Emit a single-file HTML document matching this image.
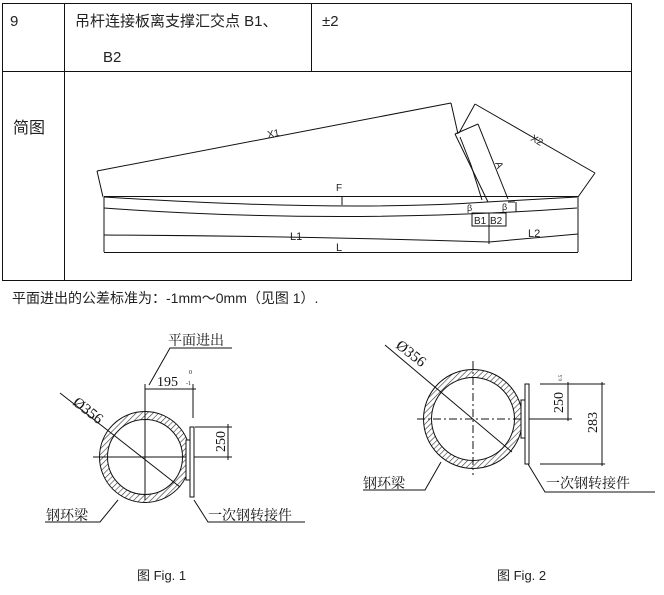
<!DOCTYPE html>
<html><head><meta charset="utf-8"><style>
html,body{margin:0;padding:0;background:#fff;width:664px;height:595px;overflow:hidden}
svg{display:block}
.t{font-family:"Liberation Sans","Noto Sans CJK SC",sans-serif;fill:#222}
.s{font-family:"Liberation Serif","Noto Serif CJK SC",serif;fill:#111}
</style></head><body>
<svg width="664" height="595" viewBox="0 0 664 595" xmlns="http://www.w3.org/2000/svg">
<defs>
<pattern id="h" width="4" height="4" patternUnits="userSpaceOnUse" patternTransform="rotate(45)">
<rect width="4" height="4" fill="#fff"/><line x1="0" y1="0" x2="0" y2="4" stroke="#333" stroke-width="1.2"/></pattern>
</defs>
<!-- table -->
<g stroke="#111" stroke-width="1" fill="none">
<line x1="2" y1="3.5" x2="632" y2="3.5"/>
<line x1="2" y1="71.5" x2="632" y2="71.5"/>
<line x1="2" y1="280.5" x2="632" y2="280.5"/>
<line x1="2.5" y1="3" x2="2.5" y2="281"/>
<line x1="64.5" y1="3" x2="64.5" y2="281"/>
<line x1="311.5" y1="3" x2="311.5" y2="72"/>
<line x1="631.5" y1="3" x2="631.5" y2="281"/>
</g>
<text class="t" x="10" y="26" font-size="15">9</text>
<text class="t" x="75" y="26" font-size="15">吊杆连接板离支撑汇交点 B1、</text>
<text class="t" x="103" y="62" font-size="15">B2</text>
<text class="t" x="322" y="26" font-size="15">±2</text>
<text class="t" x="13" y="133" font-size="16">简图</text>
<!-- beam diagram -->
<g stroke="#111" stroke-width="1" fill="none">
<line x1="97" y1="171" x2="451" y2="103"/>
<line x1="97" y1="171" x2="103" y2="197"/>
<line x1="451" y1="103" x2="458" y2="134"/>
<line x1="459" y1="133" x2="475" y2="104"/>
<line x1="475" y1="104" x2="595" y2="173"/>
<line x1="595" y1="173" x2="578" y2="197"/>
<line x1="455" y1="134" x2="478" y2="124"/>
<line x1="455" y1="134" x2="488" y2="202"/>
<line x1="478" y1="124" x2="508" y2="199"/>
<line x1="460" y1="137" x2="471" y2="165"/>
<line x1="471" y1="165" x2="482" y2="200"/>
<line x1="104" y1="196.5" x2="578" y2="196.5"/>
<path d="M104 197 Q340 212 487 202 Q540 199 577 197"/>
<path d="M104 208 Q340 225 577 208"/>
<line x1="104" y1="197" x2="104" y2="252"/>
<line x1="578" y1="197" x2="578" y2="252"/>
<line x1="342" y1="197" x2="342" y2="205"/>
<line x1="508" y1="202" x2="515" y2="202"/>
<line x1="516" y1="202" x2="516" y2="212"/>
<path d="M104 235 Q300 236 489 242 L578 234"/>
<line x1="104" y1="252.5" x2="578" y2="252.5"/>
<rect x="472" y="213" width="17" height="13"/>
<rect x="489" y="213" width="17" height="13"/>
<line x1="489" y1="213" x2="489" y2="244"/>
</g>
<g class="t" font-size="10">
<text x="268" y="138" transform="rotate(-11 268 138)">X1</text>
<text x="530" y="140" transform="rotate(30 530 140)">X2</text>
<text x="495" y="163" transform="rotate(70 495 163)">A</text>
<text x="336" y="191">F</text>
<text x="467" y="211" font-size="9">β</text>
<text x="502" y="210" font-size="9">β</text>
<text x="474" y="224" font-size="10">B1</text>
<text x="490" y="224" font-size="10">B2</text>
<text x="290" y="240" font-size="11">L1</text>
<text x="528" y="237" font-size="11">L2</text>
<text x="336" y="251" font-size="11">L</text>
</g>
<text class="t" x="12" y="303" font-size="14">平面进出的公差标准为：-1mm～0mm（见图 1）.</text>
<!-- Fig 1 -->
<g stroke="#111" stroke-width="1" fill="none">
<circle cx="145" cy="457" r="41.5" stroke-width="8" stroke="url(#h)"/>
<circle cx="145" cy="457" r="45.5"/>
<circle cx="145" cy="457" r="37.5"/>
<line x1="145" y1="405" x2="145" y2="500"/>
<line x1="93" y1="457" x2="232" y2="457"/>
<rect x="190" y="427" width="4" height="70" fill="#fff"/>
<rect x="186" y="440" width="4" height="40" fill="#fff"/>
<line x1="195" y1="427" x2="232" y2="427"/>
<line x1="228" y1="424" x2="228" y2="460"/>
<line x1="145" y1="389" x2="196" y2="389"/>
<line x1="145" y1="384" x2="145" y2="405"/>
<line x1="193" y1="384" x2="193" y2="418"/>
<path d="M149 385 L170 348 L232 348"/>
<line x1="60" y1="393" x2="180" y2="487"/>
<path d="M118 500 L100 522 L45 522"/>
<path d="M194 500 L208 522 L305 522"/>
</g>
<text class="s" x="168" y="345" font-size="14">平面进出</text>
<text class="s" x="157" y="386" font-size="14">195</text>
<text class="s" x="189" y="374" font-size="6">0</text>
<text class="s" x="186" y="385" font-size="6">-1</text>
<text class="s" x="225" y="452" font-size="14" transform="rotate(-90 225 452)">250</text>
<text class="s" x="72" y="404" font-size="15" transform="rotate(38 72 404)">Ø356</text>
<text class="s" x="46" y="520" font-size="14">钢环梁</text>
<text class="s" x="208" y="520" font-size="14">一次钢转接件</text>
<!-- Fig 2 -->
<g stroke="#111" stroke-width="1" fill="none">
<circle cx="473" cy="419" r="45.5" stroke-width="8" stroke="url(#h)"/>
<circle cx="473" cy="419" r="49.5"/>
<circle cx="473" cy="419" r="41.5"/>
<line x1="473" y1="361" x2="473" y2="475" stroke-dasharray="8 3 2 3"/>
<line x1="417" y1="419" x2="530" y2="419" stroke-dasharray="8 3 2 3"/>
<rect x="525" y="384" width="4" height="80" fill="#fff"/>
<rect x="521" y="400" width="4" height="38" fill="#fff"/>
<line x1="540" y1="384" x2="605" y2="384"/>
<line x1="540" y1="464" x2="605" y2="464"/>
<line x1="530" y1="419" x2="572" y2="419"/>
<line x1="568" y1="382" x2="568" y2="421"/>
<line x1="602" y1="382" x2="602" y2="466"/>
<line x1="385" y1="345" x2="512" y2="452"/>
<path d="M441 462 L425 490 L363 490"/>
<path d="M528 464 L545 492 L655 492"/>
</g>
<text class="s" x="563" y="413" font-size="14" transform="rotate(-90 563 413)">250</text>
<text class="s" x="562" y="381" font-size="5" transform="rotate(-90 562 381)">0.5</text>
<text class="s" x="597" y="433" font-size="14" transform="rotate(-90 597 433)">283</text>
<text class="s" x="395" y="347" font-size="15" transform="rotate(38 395 347)">Ø356</text>
<text class="s" x="363" y="488" font-size="14">钢环梁</text>
<text class="s" x="546" y="488" font-size="14">一次钢转接件</text>
<text class="t" x="137" y="580" font-size="13">图 Fig. 1</text>
<text class="t" x="497" y="580" font-size="13">图 Fig. 2</text>
</svg>
</body></html>
